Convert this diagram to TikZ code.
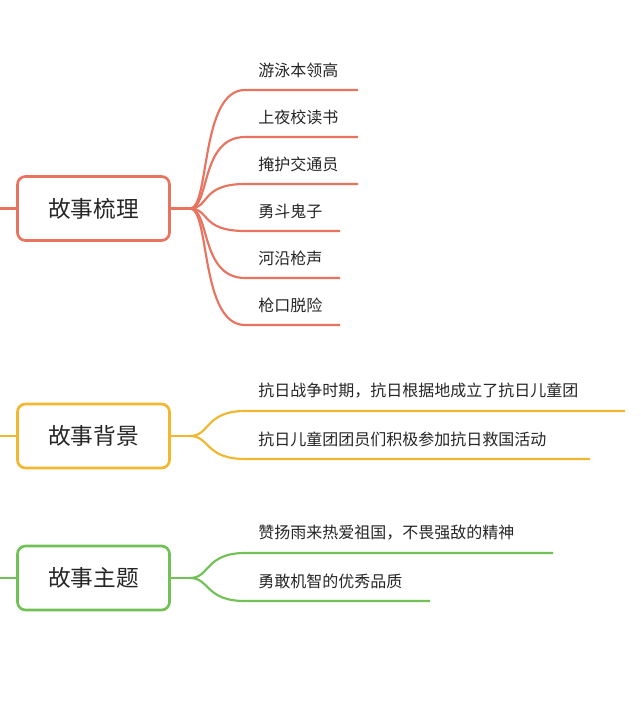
\documentclass[tikz,border=0pt]{standalone}
\usepackage{fontspec}
\setmainfont{Noto Sans CJK SC}
\definecolor{cr}{HTML}{E8735F}
\definecolor{cy}{HTML}{F0B72F}
\definecolor{cg}{HTML}{72C157}
\begin{document}
\begin{tikzpicture}[x=0.75pt,y=-0.75pt,
  box/.style={draw=#1,line width=2pt,rounded corners=6pt,minimum width=114pt,minimum height=48pt,font=\fontsize{17}{20}\selectfont,text=black!85},
  leaf/.style={anchor=west,font=\fontsize{12}{14}\selectfont,text=black!85,inner sep=0},
  br/.style={draw=#1,line width=1.6pt}]
\useasboundingbox (0,0) rectangle (640,709);
\fill[white] (0,0) rectangle (640,709);
% boxes
\node[box=cr] (b1) at (93.5,208.5) {故事梳理};
\node[box=cy] (b2) at (93.5,436) {故事背景};
\node[box=cg] (b3) at (93.5,578) {故事主题};
\coordinate (l1) at (0,208.5); \coordinate (l2) at (0,436); \coordinate (l3) at (0,578);
\draw[br=cr] (l1) -- (b1.west); \draw[br=cy] (l2) -- (b2.west); \draw[br=cg] (l3) -- (b3.west);
\coordinate (h1) at (190,208.5); \coordinate (h2) at (190,436); \coordinate (h3) at (190,578);
\draw[br=cr] (b1.east) -- (h1); \draw[br=cy] (b2.east) -- (h2); \draw[br=cg] (b3.east) -- (h3);
% leaves
\foreach \i/\y/\e/\t in {1/90/358/游泳本领高,2/137/358/上夜校读书,3/184/358/掩护交通员,4/231/340/勇斗鬼子,5/278/340/河沿枪声,6/325/340/枪口脱险}{
  \node[leaf] (r\i) at (258,\y-20) {\t};
  \coordinate (re\i) at (\e,\y);
  \draw[br=cr] (h1) .. controls (210,208.5) and (200,\y) .. (245,\y) -- (re\i);
}
\foreach \i/\y/\e/\t in {1/411/625/抗日战争时期，抗日根据地成立了抗日儿童团,2/459/590/抗日儿童团团员们积极参加抗日救国活动}{
  \node[leaf] (y\i) at (258,\y-20) {\t};
  \coordinate (ye\i) at (\e,\y);
  \draw[br=cy] (h2) .. controls (210,436) and (205,\y) .. (245,\y) -- (ye\i);
}
\foreach \i/\y/\e/\t in {1/553/553/赞扬雨来热爱祖国，不畏强敌的精神,2/601/430/勇敢机智的优秀品质}{
  \node[leaf] (g\i) at (258,\y-20) {\t};
  \coordinate (ge\i) at (\e,\y);
  \draw[br=cg] (h3) .. controls (210,578) and (205,\y) .. (245,\y) -- (ge\i);
}
\end{tikzpicture}
\end{document}
